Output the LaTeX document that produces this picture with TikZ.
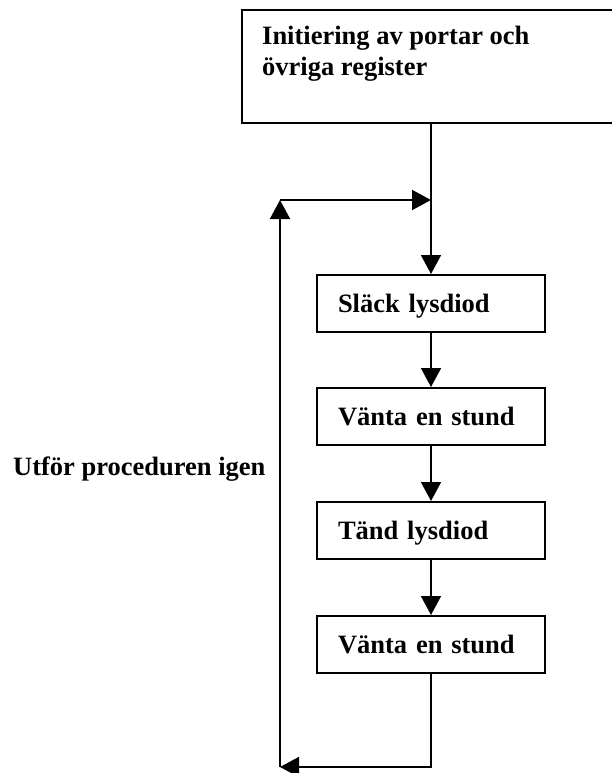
\documentclass[tikz,border=0pt]{standalone}
\usepackage{fontspec}
\setmainfont{Liberation Serif}
\usetikzlibrary{arrows.meta}

\begin{document}
\begin{tikzpicture}[x=1pt,y=-1pt,
  font=\bfseries\fontsize{26.5}{31}\selectfont,
  stepbox/.style={draw, line width=2pt, minimum height=57pt,
    text width=186pt, inner xsep=21pt, inner ysep=0pt,
    align=left, text height=17.5pt, text depth=0pt},
  flow/.style={line width=1.8pt, line join=miter,
    -{Triangle[length=19pt,width=20pt]}},
  label/.style={anchor=base west, inner sep=0pt}]

  \useasboundingbox (0,0) rectangle (612,773);
  \clip (0,0) rectangle (612,773);

  % initialisation box (runs past the right edge)
  \node[draw, line width=2pt, minimum width=398pt, minimum height=113pt,
        inner sep=0pt] (init) at (441,66.5) {};
  \node[label] (initA) at (262,45) {Initiering av portar och};
  \node[label] (initB) at (262,76) {övriga register};

  % main steps
  \node[stepbox] (s1) at (431,303.5) {Släck lysdiod};
  \node[stepbox] (s2) at (431,416.5) {Vänta en stund};
  \node[stepbox] (s3) at (431,530.5) {Tänd lysdiod};
  \node[stepbox] (s4) at (431,644.5) {Vänta en stund};

  % loop label
  \node[label] (again) at (13,475) {Utför proceduren igen};

  % loop corners
  \coordinate (lb) at (280,767);
  \coordinate (lt) at (280,200);
  \coordinate (join) at (431,200);

  % connectors
  \draw[flow] (s1 |- init.south) -- (s1.north);
  \draw[flow] (s1) -- (s2);
  \draw[flow] (s2) -- (s3);
  \draw[flow] (s3) -- (s4);
  \draw[flow] (s4.south) -- (s4.south |- lb) -- (lb);
  \draw[flow] (lb) -- (lt);
  \draw[flow] (lt) -- (join);
\end{tikzpicture}
\end{document}
